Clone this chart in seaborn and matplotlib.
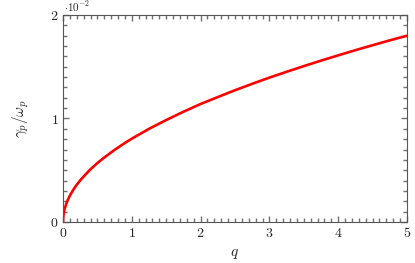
import numpy as np
import pandas as pd
import seaborn as sns
import matplotlib.pyplot as plt
from matplotlib.ticker import MultipleLocator

# values (gamma in units of 1e-2)
q_vals = [0.0, 0.003, 0.01, 0.02, 0.03, 0.05, 0.07, 0.1, 0.15, 0.2, 0.25, 0.3,
          0.4, 0.5, 0.6, 0.75, 0.9, 1.0, 1.25, 1.5, 1.75, 2.0, 2.25, 2.5,
          2.75, 3.0, 3.25, 3.5, 3.75, 4.0, 4.25, 4.5, 4.75, 5.0]
gamma_vals = [0.0, 0.044, 0.08, 0.115, 0.14, 0.18, 0.213, 0.255, 0.312, 0.36,
              0.402, 0.44, 0.51, 0.57, 0.623, 0.697, 0.764, 0.805, 0.90, 0.985,
              1.065, 1.14, 1.207, 1.273, 1.335, 1.395, 1.451, 1.506, 1.559,
              1.61, 1.66, 1.708, 1.755, 1.80]
x_ticks = [0, 1, 2, 3, 4, 5]
y_ticks = [0, 1, 2]

sns.set_theme(style="ticks")
plt.rcParams['mathtext.fontset'] = 'cm'
plt.rcParams['font.family'] = ['DejaVu Serif']

df = pd.DataFrame({'q': q_vals, 'gamma': np.array(gamma_vals) * 1e-2})

fig = plt.figure(figsize=(4.15, 2.63), dpi=100)
ax = fig.add_axes([0.1518, 0.1559, 0.8289, 0.7871])

sns.lineplot(data=df, x='q', y='gamma', color='red', linewidth=1.9, ax=ax)

ax.set_xlim(0, 5)
ax.set_ylim(0, 0.02)
ax.set_xticks(x_ticks)
ax.set_xticklabels([f"${t}$" for t in x_ticks], fontsize=10)
ax.set_yticks([t * 1e-2 for t in y_ticks])
ax.set_yticklabels([f"${t}$" for t in y_ticks], fontsize=10)
ax.xaxis.set_minor_locator(MultipleLocator(0.1))
ax.yaxis.set_minor_locator(MultipleLocator(0.001))
ax.tick_params(which='both', direction='in', bottom=True, left=True,
               top=True, right=True, color='#707070', width=1.0)
ax.tick_params(which='major', length=4.5, pad=3)
ax.tick_params(which='minor', length=2.8)
for s in ax.spines.values():
    s.set_color('#555555')
    s.set_linewidth(0.8)

ax.set_xlabel(r"$q$", fontsize=11, labelpad=5)
ax.set_ylabel(r"$\gamma_p/\omega_p$", fontsize=11, labelpad=14)
ax.text(0.003, 1.003, r"$\cdot 10^{-2}$", transform=ax.transAxes,
        ha='left', va='bottom', fontsize=8)

fig.savefig("out.png", dpi=100)
